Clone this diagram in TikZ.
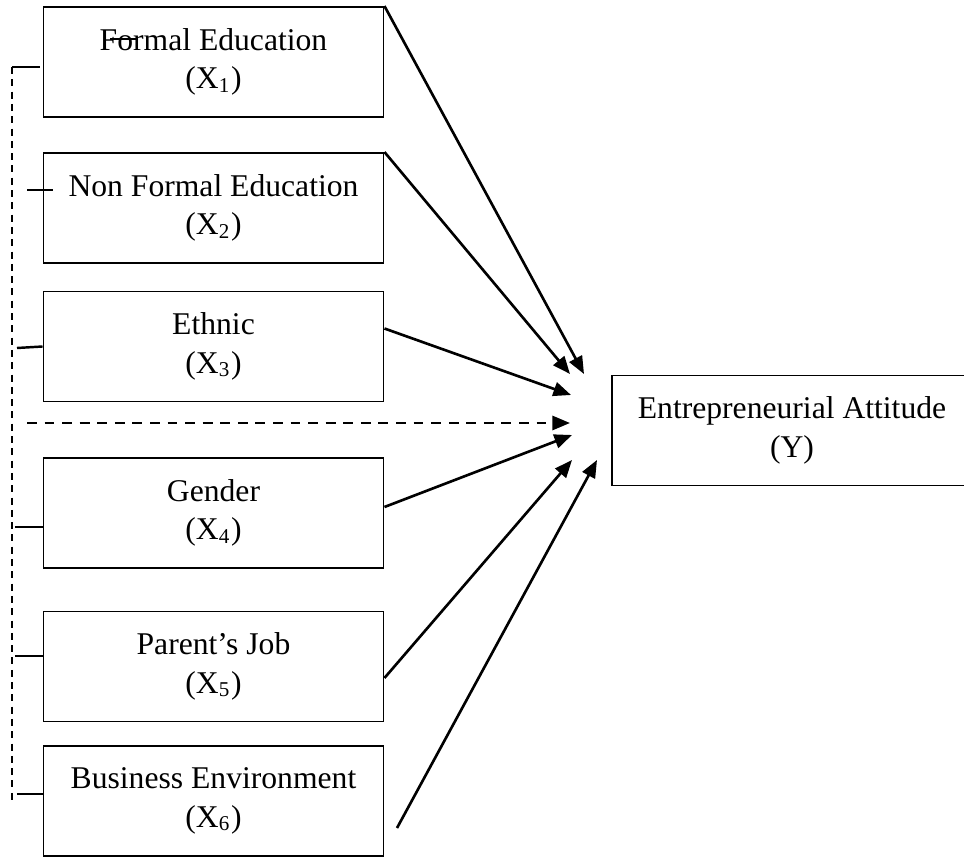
\documentclass[tikz,border=0pt]{standalone}
\usepackage{fontspec}
\setmainfont{Liberation Serif}
\usetikzlibrary{arrows.meta}

\begin{document}
\begin{tikzpicture}[
  var/.style={draw,line width=0.55pt,minimum width=3.40cm,minimum height=1.10cm,
    inner sep=0pt,align=center,font=\fontsize{9}{11}\selectfont},
  arr/.style={line width=0.75pt,-{Triangle[length=5pt,width=4pt]}},
  tick/.style={line width=0.7pt}]

  \useasboundingbox (0,0) rectangle (9.64,8.57);

  \node[var] (formal) at (2.135,7.95) {Formal Education\\(X\textsubscript{1})};
  \node[var] (nonformal) at (2.135,6.49) {Non Formal Education\\(X\textsubscript{2})};
  \node[var] (ethnic) at (2.135,5.105) {Ethnic\\(X\textsubscript{3})};
  \node[var] (gender) at (2.135,3.44) {Gender\\(X\textsubscript{4})};
  \node[var] (parent) at (2.135,1.905) {Parent's Job\\(X\textsubscript{5})};
  \node[var] (business) at (2.135,0.56) {Business Environment\\(X\textsubscript{6})};

  \node[var,minimum width=3.60cm] (attitude) at (7.92,4.265) {Entrepreneurial Attitude\\(Y)};

 % arrow tips in front of Y
  \coordinate (t1) at (5.84,4.83);
  \coordinate (t2) at (5.70,4.83);
  \coordinate (t3) at (5.71,4.62);
  \coordinate (t0) at (5.70,4.34);
  \coordinate (t4) at (5.72,4.22);
  \coordinate (t5) at (5.72,3.97);
  \coordinate (t6) at (5.97,3.97);
  \coordinate (s6) at (3.97,0.29);
  \coordinate (bus) at (0.27,4.34);

  \draw[arr] (formal.north east)--(t1);
  \draw[arr] (nonformal.north east)--(t2);
  \draw[arr] ([yshift=0.18cm]ethnic.east)--(t3);
  \draw[arr,dash pattern=on 2.8pt off 2.2pt] (bus)--(t0);
  \draw[arr] ([yshift=0.06cm]gender.east)--(t4);
  \draw[arr] ([yshift=-0.115cm]parent.east)--(t5);
  \draw[arr] (s6)--(t6);

 % dashed line on the left
  \draw[line width=0.45pt,dash pattern=on 2pt off 1.5pt] (0.12,7.90)--(0.12,0.57);
  \draw[tick] (0.12,7.90)--(0.40,7.90);
  \draw[tick] (0.27,6.67)--(0.53,6.67);
  \draw[tick] (0.17,5.09)--(ethnic.west);
  \draw[tick] (0.15,3.30)--([yshift=-0.14cm]gender.west);
  \draw[tick] (0.15,2.01)--([yshift=0.105cm]parent.west);
  \draw[tick] (0.17,0.63)--([yshift=0.07cm]business.west);
  \draw[tick] (1.10,8.18)--(1.38,8.18);
\end{tikzpicture}
\end{document}
